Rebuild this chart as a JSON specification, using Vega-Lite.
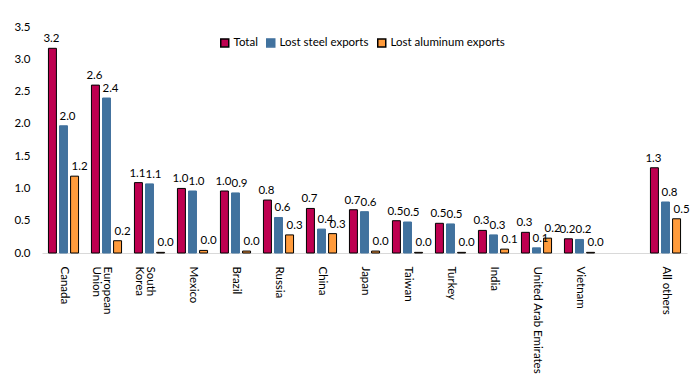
{
  "$schema": "https://vega.github.io/schema/vega-lite/v6.json",
  "autosize": "none",
  "width": 645,
  "height": 226,
  "padding": {"left": 42, "top": 27, "right": 8, "bottom": 133},
  "background": "white",
  "config": {
    "font": "Lato",
    "view": {"stroke": null},
    "axis": {"labelFont": "Lato", "labelColor": "#000", "labelFontSize": 11.5, "grid": false, "ticks": false},
    "legend": {"labelFont": "Lato"}
  },
  "data": {"values": [
    {"country": "Canada", "series": "Total", "value": 3.17},
    {"country": "Canada", "series": "Lost steel exports", "value": 1.97},
    {"country": "Canada", "series": "Lost aluminum exports", "value": 1.19},
    {"country": "European Union", "series": "Total", "value": 2.6},
    {"country": "European Union", "series": "Lost steel exports", "value": 2.4},
    {"country": "European Union", "series": "Lost aluminum exports", "value": 0.19},
    {"country": "South Korea", "series": "Total", "value": 1.09},
    {"country": "South Korea", "series": "Lost steel exports", "value": 1.07},
    {"country": "South Korea", "series": "Lost aluminum exports", "value": 0.01},
    {"country": "Mexico", "series": "Total", "value": 1.0},
    {"country": "Mexico", "series": "Lost steel exports", "value": 0.96},
    {"country": "Mexico", "series": "Lost aluminum exports", "value": 0.04},
    {"country": "Brazil", "series": "Total", "value": 0.96},
    {"country": "Brazil", "series": "Lost steel exports", "value": 0.93},
    {"country": "Brazil", "series": "Lost aluminum exports", "value": 0.03},
    {"country": "Russia", "series": "Total", "value": 0.82},
    {"country": "Russia", "series": "Lost steel exports", "value": 0.55},
    {"country": "Russia", "series": "Lost aluminum exports", "value": 0.28},
    {"country": "China", "series": "Total", "value": 0.69},
    {"country": "China", "series": "Lost steel exports", "value": 0.37},
    {"country": "China", "series": "Lost aluminum exports", "value": 0.3},
    {"country": "Japan", "series": "Total", "value": 0.67},
    {"country": "Japan", "series": "Lost steel exports", "value": 0.64},
    {"country": "Japan", "series": "Lost aluminum exports", "value": 0.03},
    {"country": "Taiwan", "series": "Total", "value": 0.5},
    {"country": "Taiwan", "series": "Lost steel exports", "value": 0.48},
    {"country": "Taiwan", "series": "Lost aluminum exports", "value": 0.01},
    {"country": "Turkey", "series": "Total", "value": 0.46},
    {"country": "Turkey", "series": "Lost steel exports", "value": 0.45},
    {"country": "Turkey", "series": "Lost aluminum exports", "value": 0.01},
    {"country": "India", "series": "Total", "value": 0.35},
    {"country": "India", "series": "Lost steel exports", "value": 0.28},
    {"country": "India", "series": "Lost aluminum exports", "value": 0.06},
    {"country": "United Arab Emirates", "series": "Total", "value": 0.32},
    {"country": "United Arab Emirates", "series": "Lost steel exports", "value": 0.08},
    {"country": "United Arab Emirates", "series": "Lost aluminum exports", "value": 0.23},
    {"country": "Vietnam", "series": "Total", "value": 0.22},
    {"country": "Vietnam", "series": "Lost steel exports", "value": 0.21},
    {"country": "Vietnam", "series": "Lost aluminum exports", "value": 0.01},
    {"country": "All others", "series": "Total", "value": 1.32},
    {"country": "All others", "series": "Lost steel exports", "value": 0.79},
    {"country": "All others", "series": "Lost aluminum exports", "value": 0.53}
  ]},
  "encoding": {
    "x": {
      "field": "country", "type": "nominal",
      "scale": {
        "domain": ["Canada", "European Union", "South Korea", "Mexico", "Brazil", "Russia", "China", "Japan", "Taiwan", "Turkey", "India", "United Arab Emirates", "Vietnam", "", "All others"],
        "paddingInner": 0.3, "paddingOuter": 0.15
      },
      "axis": {
        "title": null, "labelAngle": 90, "labelPadding": 13, "domainColor": "#D9D9D9",
        "labelFontSize": 11.5, "labelLineHeight": 11,
        "labelExpr": "datum.value == 'European Union' ? ['European', 'Union'] : datum.value == 'South Korea' ? ['South', 'Korea'] : datum.label"
      }
    },
    "xOffset": {
      "field": "series", "type": "nominal",
      "scale": {"domain": ["Total", "Lost steel exports", "Lost aluminum exports"], "paddingInner": 0.28}
    },
    "y": {
      "field": "value", "type": "quantitative",
      "scale": {"domain": [0, 3.5], "nice": false},
      "axis": {"title": null, "domain": false, "values": [0, 0.5, 1, 1.5, 2, 2.5, 3, 3.5], "format": ".1f", "labelPadding": 12, "labelFontSize": 11.5}
    }
  },
  "layer": [
    {
      "mark": {"type": "bar", "strokeWidth": 1},
      "encoding": {
        "color": {
          "field": "series", "type": "nominal",
          "scale": {"domain": ["Total", "Lost steel exports", "Lost aluminum exports"], "range": ["#BE0050", "#41729E", "#FF9B3C"]},
          "legend": {
            "title": null, "orient": "none", "direction": "horizontal", "legendX": 177, "legendY": 10,
            "symbolType": "square", "symbolSize": 64, "labelFontSize": 11.5, "labelColor": "#000",
            "columnPadding": 5, "labelOffset": 3, "padding": 0
          }
        },
        "stroke": {
          "field": "series", "type": "nominal",
          "scale": {"domain": ["Total", "Lost steel exports", "Lost aluminum exports"], "range": ["#000000", "#41729E", "#000000"]},
          "legend": null
        }
      }
    },
    {
      "transform": [{"filter": "datum.series == 'Total'"}],
      "mark": {"type": "text", "baseline": "bottom", "dy": -4, "dx": -1, "fontSize": 11.5, "color": "#000"},
      "encoding": {
        "text": {"field": "value", "type": "quantitative", "format": ".1f"}
      }
    },
    {
      "transform": [{"filter": "datum.series == 'Lost steel exports'"}],
      "mark": {"type": "text", "baseline": "bottom", "dy": -4, "dx": 4, "fontSize": 11.5, "color": "#000"},
      "encoding": {
        "text": {"field": "value", "type": "quantitative", "format": ".1f"}
      }
    },
    {
      "transform": [{"filter": "datum.series == 'Lost aluminum exports'"}],
      "mark": {"type": "text", "baseline": "bottom", "dy": -4, "dx": 5, "fontSize": 11.5, "color": "#000"},
      "encoding": {
        "text": {"field": "value", "type": "quantitative", "format": ".1f"}
      }
    }
  ]
}
